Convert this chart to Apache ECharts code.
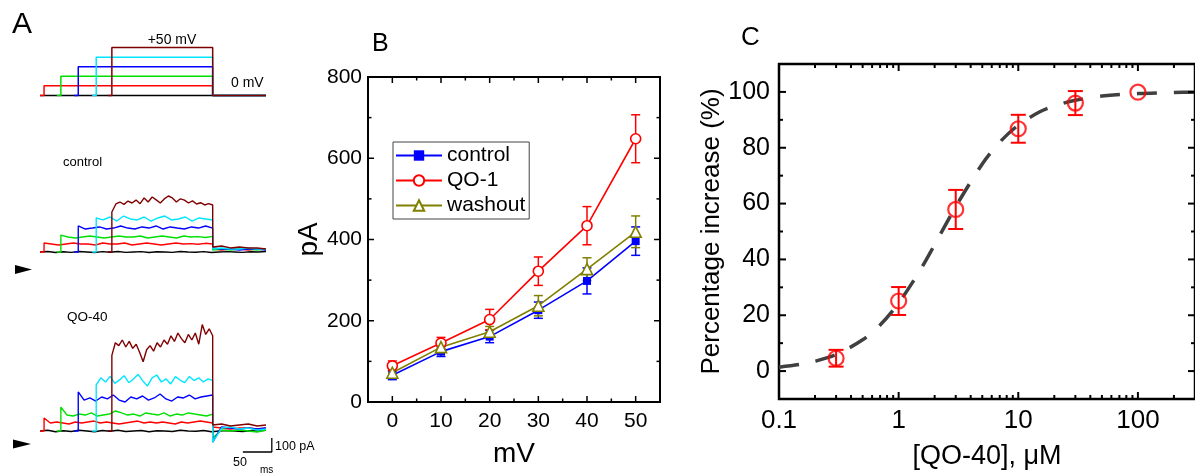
<!DOCTYPE html>
<html><head><meta charset="utf-8">
<script src="https://cdn.jsdelivr.net/npm/echarts@6/dist/echarts.min.js"></script>
<style>html,body{margin:0;padding:0;background:#fff;overflow:hidden}#c{width:1195px;height:475px}</style>
</head><body><div id="c"></div>
<script>
const FONT = "'Liberation Sans', Arial, sans-serif";

// ---------- Panel A: traces (time in ms, current in pA, voltage in mV) ----------
const traceColors = ['#000000', '#ff0000', '#00e000', '#0000ff', '#00e5ff', '#800000'];
const protocolLevels = [0, 10, 20, 30, 40, 50];
const traceStarts = [0, 0, 29, 59, 90, 117];
const stepStarts = [0, 7, 36, 66, 97, 124];
const stepEnd = 298;
const traceEnd = 390;
const scaleBarMs = 50;
const scaleBarPA = 100;

const ctrlBlack = [0, 4, -4, 2, -3, 4, 0, -4, 3, -2, 4, -3, 0, 3, -4, 2, 0, -3, 4, 0, -2, 3, -4, 0, 3, 0, -3, 2, 0, 4];
const ctrlRed = [64, 57, 50, 57, 64, 57, 57, 50, 64, 57, 57, 64, 50, 57, 64, 57, 50, 57, 64, 57, 60, 55, 62, 57];
const ctrlGreen = [121, 107, 100, 107, 114, 107, 100, 107, 114, 107, 107, 114, 100, 107, 114, 107, 100, 114, 107, 110, 104, 112];
const ctrlBlue = [186, 164, 171, 179, 164, 171, 186, 171, 164, 179, 171, 186, 164, 179, 171, 164, 179, 171, 186, 171];
const ctrlCyan = [243, 229, 250, 221, 257, 236, 229, 250, 221, 243, 257, 229, 236, 250, 221, 243, 236, 229];
const ctrlDarkRed = [286, 343, 357, 340, 364, 350, 371, 345, 386, 357, 393, 372, 350, 379, 400, 386, 357, 380, 371, 350, 365, 343, 352, 336, 345, 336];
const ctrlAfter = [null, [21, 14, 21, 21, 14, 21, 21], [14, 21, 14, 21, 21, 14, 21], [29, 21, 21, 14, 21, 21, 14], [21, 29, 21, 21, 29, 21, 21], [36, 43, 29, 36, 29, 29, 21]];

const qoBlack = [0, 5, -5, 2, -4, 5, 0, -5, 4, -2, 5, -4, 0, 4, -5, 2, 0, -4, 5, 0, -2, 4, -5, 0, 4, 0, -4, 2, 0, 5];
const qoRed = [93, 57, 64, 57, 50, 64, 57, 64, 71, 57, 64, 57, 50, 57, 64, 71, 57, 64, 57, 64, 57, 50, 64, 57, 64, 71, 64, 57];
const qoGreen = [171, 114, 107, 121, 114, 129, 107, 114, 121, 143, 129, 114, 121, 107, 129, 121, 114, 129, 107, 121, 114, 129, 121, 114, 107, 121];
const qoBlue = [279, 221, 236, 214, 243, 229, 257, 221, 207, 243, 229, 250, 221, 236, 264, 229, 214, 243, 236, 257, 229, 243, 250, 257];
const qoCyan = [330, 380, 350, 390, 340, 365, 395, 345, 372, 405, 358, 322, 380, 400, 350, 372, 336, 388, 364, 345, 390, 360, 380, 350, 372, 360];
const qoDarkRed = [540, 630, 610, 650, 600, 640, 590, 620, 560, 495, 580, 610, 570, 630, 600, 650, 620, 680, 640, 700, 660, 630, 690, 650, 700, 620, 760, 690, 730, 680];
const qoAfter = [null, [29, 21, 14, 21, 21, 14, 21], [-50, 7, 0, 7, 0, -7, 7], [-79, 29, 21, 14, 21, 14, 21], [-79, 21, 29, 14, 21, 7, 14], [43, 50, 36, 43, 50, 36, 43]];

// ---------- Panel B ----------
const bVolt = [0, 10, 20, 30, 40, 50];
const bControl = [66, 124, 161, 226, 298, 396];
const bControlErr = [11, 12, 15, 20, 32, 35];
const bQO1 = [89, 145, 203, 322, 434, 648];
const bQO1Err = [12, 14, 25, 35, 47, 59];
const bWash = [72, 135, 173, 237, 327, 419];
const bWashErr = [10, 12, 13, 25, 28, 39];
const bXLabels = [0, 10, 20, 30, 40, 50];
const bYLabels = [0, 200, 400, 600, 800];
const bXMinor = [5, 15, 25, 35, 45];
const bYMinor = [100, 300, 500, 700];

// ---------- Panel C ----------
const cConc = [0.3, 1, 3, 10, 30, 100];
const cPct = [4.6, 25.1, 57.9, 86.8, 96, 99.9];
const cErr = [3, 5, 7, 5, 4.3, 0];
const cFitX = [0.1, 0.15, 0.2, 0.3, 0.5, 0.7, 1, 1.5, 2, 3, 5, 7, 10, 15, 20, 30, 50, 100, 200, 300];
const cFitY = [1.4, 2.4, 3.5, 5.9, 11.2, 16.5, 24.4, 35.9, 45.3, 58.9, 74.2, 82, 88.1, 92.8, 95, 97, 98.5, 99.4, 99.8, 99.9];
const cXLabels = [0.1, 1, 10, 100];
const cXMinor = [0.2, 0.3, 0.4, 0.5, 0.6, 0.7, 0.8, 0.9, 2, 3, 4, 5, 6, 7, 8, 9, 20, 30, 40, 50, 60, 70, 80, 90, 200];
const cYLabels = [0, 20, 40, 60, 80, 100];
const cYMinor = [10, 30, 50, 70, 90];

// ---------- builders ----------
function buildTrace(k, vals, after) {
  if (k === 0) {
    const n = vals.length;
    return vals.map((v, i) => [i * traceEnd / (n - 1), v]);
  }
  const s = stepStarts[k], n = vals.length;
  const pts = [[traceStarts[k], 0], [s, 0]];
  vals.forEach((v, i) => pts.push([s + i * (stepEnd - s) / (n - 1), v]));
  after.forEach((v, i) => pts.push([stepEnd + i * (traceEnd - stepEnd) / (after.length - 1), v]));
  return pts;
}
function buildProtocol(k) {
  if (k === 0) return [[0, 0], [traceEnd, 0]];
  const s = stepStarts[k], L = protocolLevels[k];
  return [[traceStarts[k], 0], [s, 0], [s, L], [stepEnd, L], [stepEnd, 0], [traceEnd, 0]];
}
function lineS(ax, data, color, w, z) {
  return { type: 'line', xAxisIndex: ax, yAxisIndex: ax, data: data, showSymbol: false, symbol: 'none',
    lineStyle: { color: color, width: w }, itemStyle: { color: color }, z: z || 2, silent: true };
}
function tickSeries(ax, values, len, isX, ext, lw) {
  return {
    type: 'custom', xAxisIndex: ax, yAxisIndex: ax, silent: true, z: 6, clip: false,
    data: values.map(v => isX ? [v, ext.y0] : [ext.x0, v]),
    renderItem: function (params, api) {
      let s;
      if (isX) {
        const v = api.value(0);
        const a = api.coord([v, ext.y0]), b = api.coord([v, ext.y1]);
        s = [[a[0], a[1], a[0], a[1] - len], [b[0], b[1], b[0], b[1] + len]];
      } else {
        const v = api.value(1);
        const a = api.coord([ext.x0, v]), b = api.coord([ext.x1, v]);
        s = [[a[0], a[1], a[0] + len, a[1]], [b[0], b[1], b[0] - len, b[1]]];
      }
      return { type: 'group', children: s.map(q => ({ type: 'line', shape: { x1: q[0], y1: q[1], x2: q[2], y2: q[3] }, style: { stroke: '#000', lineWidth: lw } })) };
    }
  };
}
function errSeries(ax, xs, ys, es, color, cap, lw, z) {
  return {
    type: 'custom', xAxisIndex: ax, yAxisIndex: ax, silent: true, z: z,
    data: xs.map((x, i) => [x, ys[i] - es[i], ys[i] + es[i]]),
    encode: { x: 0, y: [1, 2] },
    renderItem: function (params, api) {
      const x = api.value(0), lo = api.value(1), hi = api.value(2);
      if (!(hi - lo > 0)) return { type: 'group', children: [] };
      const p = api.coord([x, lo]), q = api.coord([x, hi]), h = cap / 2;
      const st = { stroke: color, lineWidth: lw };
      return { type: 'group', children: [
        { type: 'line', shape: { x1: p[0], y1: p[1], x2: q[0], y2: q[1] }, style: st },
        { type: 'line', shape: { x1: p[0] - h, y1: p[1], x2: p[0] + h, y2: p[1] }, style: st },
        { type: 'line', shape: { x1: q[0] - h, y1: q[1], x2: q[0] + h, y2: q[1] }, style: st }] };
    }
  };
}

const series = [];
// Panel A protocol (grid 0)
for (let k = 0; k < 6; k++) series.push(lineS(0, buildProtocol(k), traceColors[k], 1.5, 2 + k));
// control (grid 1)
const ctrlVals = [ctrlBlack, ctrlRed, ctrlGreen, ctrlBlue, ctrlCyan, ctrlDarkRed];
for (let k = 0; k < 6; k++) series.push(lineS(1, buildTrace(k, ctrlVals[k], ctrlAfter[k]), traceColors[k], 1.4, 2 + k));
// QO-40 (grid 2)
const qoVals = [qoBlack, qoRed, qoGreen, qoBlue, qoCyan, qoDarkRed];
for (let k = 0; k < 6; k++) series.push(lineS(2, buildTrace(k, qoVals[k], qoAfter[k]), traceColors[k], 1.4, 2 + k));
// scale bar (grid 5: same scale as QO-40 grid, larger extent)
const sbX = 350, sbY = -150;
series.push(lineS(5, [[sbX, sbY], [sbX + scaleBarMs, sbY], [sbX + scaleBarMs, sbY + scaleBarPA]], '#000', 1.3, 3));

// Panel B (grid 3)
series.push(errSeries(3, bVolt, bControl, bControlErr, '#0000ff', 9, 1.5, 3));
series.push(errSeries(3, bVolt, bWash, bWashErr, '#808000', 9, 1.5, 3));
series.push(errSeries(3, bVolt, bQO1, bQO1Err, '#ff0000', 9, 1.5, 3));
series.push({ name: 'control', type: 'line', xAxisIndex: 3, yAxisIndex: 3, data: bVolt.map((v, i) => [v, bControl[i]]),
  symbol: 'rect', symbolSize: 8, lineStyle: { color: '#0000ff', width: 1.6 }, itemStyle: { color: '#0000ff' }, z: 4 });
series.push({ name: 'QO-1', type: 'line', xAxisIndex: 3, yAxisIndex: 3, data: bVolt.map((v, i) => [v, bQO1[i]]),
  symbol: 'circle', symbolSize: 10, lineStyle: { color: '#ff0000', width: 1.6 }, itemStyle: { color: '#ffffff', borderColor: '#ff0000', borderWidth: 1.6 }, z: 4 });
series.push({ name: 'washout', type: 'line', xAxisIndex: 3, yAxisIndex: 3, data: bVolt.map((v, i) => [v, bWash[i]]),
  symbol: 'triangle', symbolSize: 11, lineStyle: { color: '#808000', width: 1.6 }, itemStyle: { color: '#ffffff', borderColor: '#808000', borderWidth: 1.6 }, z: 4 });
const bExt = { x0: -5, x1: 55, y0: 0, y1: 800 };
series.push(tickSeries(3, bXLabels, 6, true, bExt, 1.5));
series.push(tickSeries(3, bXMinor, 3.5, true, bExt, 1.5));
series.push(tickSeries(3, bYLabels, 6, false, bExt, 1.5));
series.push(tickSeries(3, bYMinor, 3.5, false, bExt, 1.5));

// Panel C (grid 4)
series.push({ type: 'line', xAxisIndex: 4, yAxisIndex: 4, data: cFitX.map((x, i) => [x, cFitY[i]]), showSymbol: false, symbol: 'none',
  smooth: 0.3, lineStyle: { color: '#404040', width: 3.5, type: [20, 17] }, z: 2, silent: true });
series.push(errSeries(4, cConc, cPct, cErr, '#ff0000', 15, 2, 3));
series.push({ type: 'scatter', xAxisIndex: 4, yAxisIndex: 4, data: cConc.map((x, i) => [x, cPct[i]]), symbol: 'circle', symbolSize: 15,
  itemStyle: { color: 'rgba(255,255,255,0)', borderColor: '#ff0000', borderWidth: 2.2 }, z: 4, silent: true });
const cExt = { x0: 0.1, x1: 300, y0: -10, y1: 110 };
series.push(tickSeries(4, cXLabels, 7, true, cExt, 2));
series.push(tickSeries(4, cXMinor, 4, true, cExt, 2));
series.push(tickSeries(4, cYLabels, 7, false, cExt, 2));
series.push(tickSeries(4, cYMinor, 4, false, cExt, 2));

const hidden = { show: false };
function aAxisX(i, mx) { return { type: 'value', gridIndex: i, min: 0, max: mx, show: false }; }
function aAxisY(i, mn, mx) { return { type: 'value', gridIndex: i, min: mn, max: mx, show: false }; }

const option = {
  animation: false,
  backgroundColor: '#fff',
  textStyle: { fontFamily: FONT },
  grid: [
    { left: 40, top: 38, width: 226, height: 67 },
    { left: 40, top: 182, width: 226, height: 84 },
    { left: 40, top: 319, width: 226, height: 126 },
    { left: 368, top: 77, width: 292, height: 325, show: true, borderColor: '#000', borderWidth: 2, backgroundColor: 'transparent' },
    { left: 779, top: 64, width: 417, height: 336, show: true, borderColor: '#000', borderWidth: 2.5, backgroundColor: 'transparent' },
    { left: 40, top: 319, width: 243.4, height: 140 }
  ],
  xAxis: [
    aAxisX(0, traceEnd), aAxisX(1, traceEnd), aAxisX(2, traceEnd),
    { type: 'value', gridIndex: 3, min: -5, max: 55, interval: 5,
      axisLine: hidden, axisTick: hidden, splitLine: hidden,
      axisLabel: { formatter: v => bXLabels.includes(v) ? String(v) : '', fontSize: 21, color: '#000', margin: 9, fontFamily: FONT },
      name: 'mV', nameLocation: 'middle', nameGap: 38, nameTextStyle: { fontSize: 28, color: '#000', fontFamily: FONT } },
    { type: 'log', logBase: 10, gridIndex: 4, min: 0.1, max: 300,
      axisLine: hidden, axisTick: hidden, splitLine: hidden, minorTick: hidden,
      axisLabel: { formatter: v => { const s = +(+v).toPrecision(6); return cXLabels.includes(s) ? String(s) : ''; }, fontSize: 26, color: '#000', margin: 9, fontFamily: FONT, showMaxLabel: false },
      name: '[QO-40], μM', nameLocation: 'middle', nameGap: 44, nameTextStyle: { fontSize: 27, color: '#000', fontFamily: FONT } },
    aAxisX(5, 420)
  ],
  yAxis: [
    aAxisY(0, -10, 60), aAxisY(1, -100, 500), aAxisY(2, -100, 800),
    { type: 'value', gridIndex: 3, min: 0, max: 800, interval: 200,
      axisLine: hidden, axisTick: hidden, splitLine: hidden,
      axisLabel: { fontSize: 21, color: '#000', margin: 6, fontFamily: FONT },
      name: 'pA', nameLocation: 'middle', nameGap: 44, nameTextStyle: { fontSize: 28, color: '#000', fontFamily: FONT } },
    { type: 'value', gridIndex: 4, min: -10, max: 110, interval: 10,
      axisLine: hidden, axisTick: hidden, splitLine: hidden,
      axisLabel: { formatter: v => cYLabels.includes(v) ? String(v) : '', fontSize: 25, color: '#000', margin: 9, fontFamily: FONT },
      name: 'Percentage increase (%)', nameLocation: 'middle', nameGap: 52, nameTextStyle: { fontSize: 26, color: '#000', fontFamily: FONT } },
    aAxisY(5, -200, 800)
  ],
  legend: {
    data: ['control', 'QO-1', 'washout'], orient: 'vertical', left: 393, top: 142,
    padding: [3, 4, 3, 2], itemWidth: 46, itemHeight: 13, itemGap: 4,
    borderColor: '#444', borderWidth: 1, selectedMode: false,
    textStyle: { fontSize: 21, color: '#000', fontFamily: FONT, padding: [0, 0, 0, 0] }
  },
  graphic: [
    { type: 'text', x: 12, y: 25, style: { text: 'A', fontSize: 30, fontFamily: FONT, fill: '#000', verticalAlign: 'middle' } },
    { type: 'text', x: 372, y: 44, style: { text: 'B', fontSize: 25, fontFamily: FONT, fill: '#000', verticalAlign: 'middle' } },
    { type: 'text', x: 741, y: 38, style: { text: 'C', fontSize: 26, fontFamily: FONT, fill: '#000', verticalAlign: 'middle' } },
    { type: 'text', x: 172, y: 40, style: { text: '+50 mV', fontSize: 14, fontFamily: FONT, fill: '#000', align: 'center', verticalAlign: 'middle' } },
    { type: 'text', x: 231, y: 83, style: { text: '0 mV', fontSize: 14, fontFamily: FONT, fill: '#000', verticalAlign: 'middle' } },
    { type: 'text', x: 63, y: 162, style: { text: 'control', fontSize: 13, fontFamily: FONT, fill: '#000', verticalAlign: 'middle' } },
    { type: 'text', x: 67, y: 317, style: { text: 'QO-40', fontSize: 13.5, fontFamily: FONT, fill: '#000', verticalAlign: 'middle' } },
    { type: 'text', x: 275, y: 447, style: { text: '100 pA', fontSize: 12.5, fontFamily: FONT, fill: '#000', verticalAlign: 'middle' } },
    { type: 'text', x: 233, y: 463, style: { text: '50', fontSize: 12.5, fontFamily: FONT, fill: '#000', verticalAlign: 'middle' } },
    { type: 'text', x: 260, y: 470, style: { text: 'ms', fontSize: 10, fontFamily: FONT, fill: '#000', verticalAlign: 'middle' } },
    { type: 'polygon', shape: { points: [[15, 265], [32, 269.5], [15, 274]] }, style: { fill: '#000' } },
    { type: 'polygon', shape: { points: [[13, 439.5], [31, 444], [13, 448.5]] }, style: { fill: '#000' } }
  ],
  series: series
};
const chart = echarts.init(document.getElementById('c'), null, { renderer: 'canvas' });
chart.setOption(option);
</script>
</body></html>
